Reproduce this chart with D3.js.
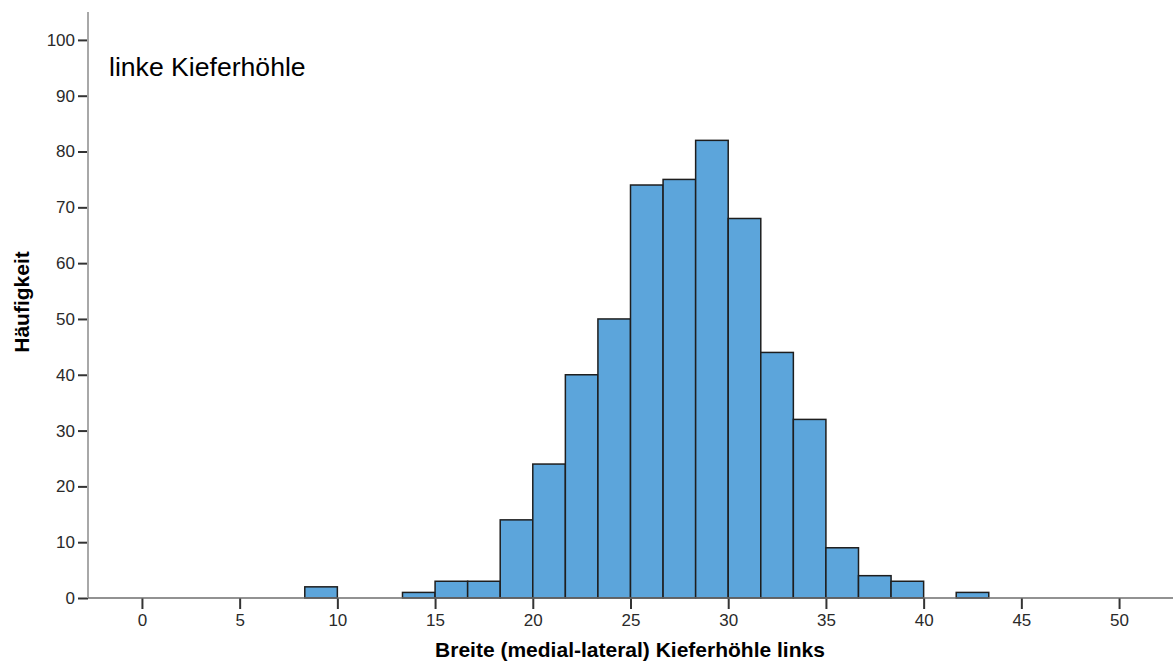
<!DOCTYPE html>
<html>
<head>
<meta charset="utf-8">
<script src="https://cdn.jsdelivr.net/npm/d3@7"></script>
<style>
  body { margin: 0; background: #fff; }
  text { font-family: "Liberation Sans", Arial, sans-serif; }
</style>
</head>
<body>
<script>
// Histogram data: lower bin edges, bin width and counts
let binLower = [8.333, 10, 11.667, 13.333, 15, 16.667, 18.333, 20, 21.667, 23.333,
  25, 26.667, 28.333, 30, 31.667, 33.333, 35, 36.667, 38.333, 40, 41.667];
let binWidth = 5 / 3;
let counts = [2, 0, 0, 1, 3, 3, 14, 24, 40, 50, 74, 75, 82, 68, 44, 32, 9, 4, 3, 0, 1];
let xTicks = [0, 5, 10, 15, 20, 25, 30, 35, 40, 45, 50];
let yTicks = [0, 10, 20, 30, 40, 50, 60, 70, 80, 90, 100];

let width = 1173, height = 666;
let svg = d3.select("body").append("svg")
  .attr("width", width)
  .attr("height", height);

// Scales
let x = d3.scaleLinear().domain([-2.76, 52.76]).range([88, 1173]);
let y = d3.scaleLinear().domain([0, 105]).range([598, 12]);

// Bars
svg.append("g").selectAll("rect")
  .data(counts.map((c, i) => ({ x0: binLower[i], n: c })).filter(d => d.n > 0))
  .join("rect")
  .attr("x", d => x(d.x0))
  .attr("y", d => y(d.n))
  .attr("width", d => x(d.x0 + binWidth) - x(d.x0))
  .attr("height", d => y(0) - y(d.n))
  .attr("fill", "#5ca5db")
  .attr("stroke", "#1e1e1e")
  .attr("stroke-width", 1.5);

// Y axis
let yAxis = svg.append("g")
  .attr("transform", "translate(88,0)")
  .call(d3.axisLeft(y).tickValues(yTicks).tickSize(10).tickPadding(3));
yAxis.select(".domain").remove();
yAxis.selectAll(".tick line").attr("stroke", "#333").attr("stroke-width", 2);
yAxis.selectAll(".tick text")
  .attr("fill", "#2a2a2a")
  .style("font-size", "17px");
svg.append("line")
  .attr("x1", 88).attr("x2", 88)
  .attr("y1", y(105)).attr("y2", y(0))
  .attr("stroke", "#a8a8a8")
  .attr("stroke-width", 2);

// X axis
let xAxis = svg.append("g")
  .attr("transform", "translate(0,598)")
  .call(d3.axisBottom(x).tickValues(xTicks).tickSize(11).tickPadding(5));
xAxis.select(".domain").remove();
xAxis.selectAll(".tick line").attr("stroke", "#333").attr("stroke-width", 2);
xAxis.selectAll(".tick text")
  .attr("fill", "#2a2a2a")
  .style("font-size", "17px");
svg.append("line")
  .attr("x1", 88).attr("x2", width)
  .attr("y1", y(0)).attr("y2", y(0))
  .attr("stroke", "#6e6e6e")
  .attr("stroke-width", 1.5);

// Titles
svg.append("text")
  .attr("x", 630)
  .attr("y", 657)
  .attr("text-anchor", "middle")
  .style("font-size", "21px")
  .style("font-weight", "bold")
  .text("Breite (medial-lateral) Kieferhöhle links");

svg.append("text")
  .attr("transform", "translate(29,302) rotate(-90)")
  .attr("text-anchor", "middle")
  .style("font-size", "21px")
  .style("font-weight", "bold")
  .text("Häufigkeit");

svg.append("text")
  .attr("x", 109)
  .attr("y", 76)
  .style("font-size", "26.6px")
  .text("linke Kieferhöhle");
</script>
</body>
</html>
